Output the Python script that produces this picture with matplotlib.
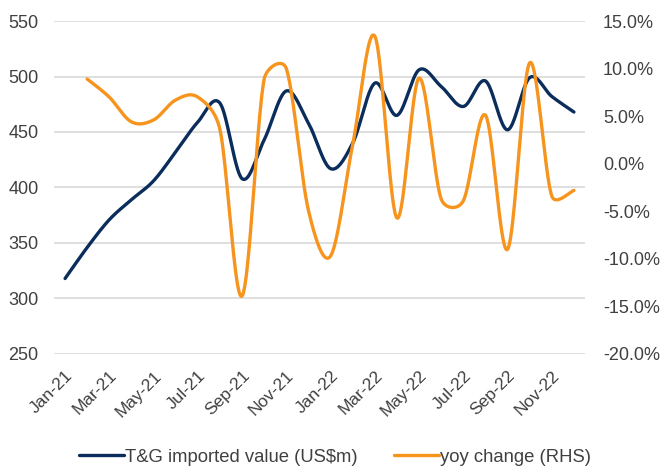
import numpy as np
import matplotlib.pyplot as plt

plt.rcParams['font.family'] = ['Liberation Sans', 'DejaVu Sans']

# ---------- data ----------
months = ['Jan-21', 'Feb-21', 'Mar-21', 'Apr-21', 'May-21', 'Jun-21', 'Jul-21', 'Aug-21',
          'Sep-21', 'Oct-21', 'Nov-21', 'Dec-21', 'Jan-22', 'Feb-22', 'Mar-22', 'Apr-22',
          'May-22', 'Jun-22', 'Jul-22', 'Aug-22', 'Sep-22', 'Oct-22', 'Nov-22', 'Dec-22']
imported_value = [318, 346, 371, 389, 406, 432, 459, 476, 408, 443, 487, 458,
                  417, 440, 494, 465, 506, 491, 473, 496, 452, 499, 482, 468]
# yoy change (%), no value for Jan-21
yoy_change = [np.nan, 8.9, 7.0, 4.4, 4.6, 6.7, 7.0, 3.6, -13.9, 8.9, 10.0, -4.9,
              -9.7, 2.0, 13.4, -5.7, 9.0, -3.7, -3.9, 5.1, -9.0, 10.6, -3.4, -2.8]

NAVY = '#0B2D5C'
ORANGE = '#F7941D'
GREY = '#404040'

# pixel scales used for the Excel-like smoothing (px per unit)
PX_X = 22.1
PX_LEFT = 333 / 300
PX_RIGHT = 333 / 35


def smooth(x, y, sy, n=40):
    # Excel-style smoothed line: Bezier segments, tangent length capped at half the segment
    px = np.asarray(x, float) * PX_X
    py = np.asarray(y, float) * sy
    P = np.column_stack([px, py])
    out = []
    for i in range(len(P) - 1):
        p0 = P[i - 1] if i > 0 else P[i]
        p1, p2 = P[i], P[i + 1]
        p3 = P[i + 2] if i + 2 < len(P) else P[i + 1]
        d12 = np.hypot(*(p2 - p1))
        d02 = np.hypot(*(p2 - p0))
        d13 = np.hypot(*(p3 - p1))
        f0 = 1 / 6 if d02 / 6 < d12 / 2 else d12 / (2 * d02)
        f1 = 1 / 6 if d13 / 6 < d12 / 2 else d12 / (2 * d13)
        c1 = p1 + (p2 - p0) * f0
        c2 = p2 - (p3 - p1) * f1
        t = np.linspace(0, 1, n)[:, None]
        seg = (1 - t) ** 3 * p1 + 3 * (1 - t) ** 2 * t * c1 + 3 * (1 - t) * t ** 2 * c2 + t ** 3 * p2
        out.append(seg)
    out = np.vstack(out)
    return out[:, 0] / PX_X, out[:, 1] / sy


x = np.arange(len(months))

fig = plt.figure(figsize=(6.6, 4.66), dpi=100)
ax = fig.add_axes([54 / 660, 1 - 354 / 466, 531 / 660, 333 / 466])
ax2 = ax.twinx()

sx, sy = smooth(x, imported_value, PX_LEFT)
ax.plot(sx, sy, color=NAVY, lw=2.4, solid_capstyle='round', zorder=3,
        label='T&G imported value (US$m)')

valid = ~np.isnan(yoy_change)
ox, oy = smooth(x[valid], np.array(yoy_change)[valid], PX_RIGHT)
ax2.plot(ox, oy, color=ORANGE, lw=2.4, solid_capstyle='round', zorder=3,
         label='yoy change (RHS)')

ax.set_xlim(-0.5, 23.5)
ax.set_ylim(250, 550)
ax.set_yticks(range(250, 551, 50))
ax2.set_ylim(-20, 15)
ax2.set_yticks(range(-20, 16, 5))
ax2.set_yticklabels([f'{v:.1f}%' for v in range(-20, 16, 5)])

ax.set_xticks(x[::2])
ax.set_xticklabels(months[::2], rotation=45, ha='right', rotation_mode='anchor')

ax.grid(axis='y', color='#D9D9D9', lw=1.2)
ax.set_axisbelow(True)
for a in (ax, ax2):
    for s in a.spines.values():
        s.set_visible(False)
    a.tick_params(length=0, colors=GREY, labelsize=13)
ax.tick_params(axis='y', pad=11)
ax2.tick_params(axis='y', pad=13)
ax.tick_params(axis='x', labelsize=12.5, pad=10)

h1, l1 = ax.get_legend_handles_labels()
h2, l2 = ax2.get_legend_handles_labels()
fig.legend(h1 + h2, l1 + l2, loc='center', bbox_to_anchor=(335 / 660, 1 - 457 / 466), ncol=2,
           frameon=False, fontsize=13.3, handlelength=2.4, handletextpad=0.05,
           columnspacing=2.0, labelcolor=GREY, borderaxespad=0, borderpad=0)

fig.savefig('out.png', dpi=100)
